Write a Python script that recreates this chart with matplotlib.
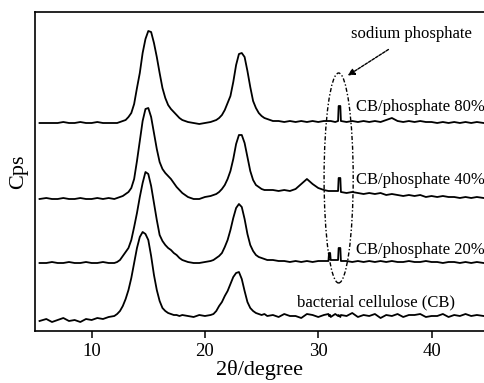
# xrd_patterns.py

import numpy as np
import matplotlib
matplotlib.use("Agg")
import matplotlib.pyplot as plt
from matplotlib.patches import Ellipse

plt.rcParams["font.family"] = ["Liberation Serif", "DejaVu Serif"]

# ---------------- DATA ---------------- #
two_theta = [
    5.4, 6.0, 6.5, 7.0, 7.5, 8.0, 8.5, 9.0, 9.5, 10.0, 10.5, 11.0, 11.5, 12.0,
    12.25, 12.5, 12.75, 13.0, 13.25, 13.5, 13.75, 14.0, 14.25, 14.5, 14.75, 15.0,
    15.25, 15.5, 15.75, 16.0, 16.25, 16.5, 16.75, 17.0, 17.25, 17.5, 17.75, 18.0,
    18.5, 19.0, 19.5, 20.0, 20.5,
    20.75, 21.0, 21.25, 21.5, 21.75, 22.0, 22.25, 22.5, 22.75, 23.0, 23.25, 23.5,
    23.75, 24.0, 24.25, 24.5, 24.75, 25.0, 25.25, 25.5,
    26.0, 26.5, 27.0, 27.5, 28.0, 28.5, 29.0, 29.5, 30.0, 30.5,
    30.9, 30.95, 31.05, 31.1, 31.5, 31.75, 31.8, 31.95, 32.0,
    32.5, 33.0, 33.5, 34.0, 34.5, 35.0, 35.5, 36.0, 36.5, 37.0, 37.5, 38.0,
    38.5, 39.0, 39.5, 40.0, 40.5, 41.0, 41.5, 42.0, 42.5, 43.0, 43.5, 44.0, 44.6,
]

cb_80 = [
    0, 0, 0, 0, 1, 0, 0, 1, 0, 0, 1, 0, 0, 0,
    0, 1, 2, 3, 6, 10, 19, 35, 50, 70, 84, 92, 91, 80, 66, 50, 35, 25, 18, 14, 11, 8, 5, 3,
    1, 0, -1, 0, 1,
    2, 3, 5, 8, 13, 20, 27, 41, 58, 69, 70, 66, 52, 36, 22, 15, 10, 7, 5, 4,
    2, 2, 1, 2, 1, 2, 1, 2, 1, 2, 2, 2, 2, 2, 1, 2, 17, 17, 2,
    1, 2, 1, 2, 1, 2, 1, 3, 5, 2, 1, 2, 1, 2, 1, 1, 0, 1, 0, 1, 0, 1, 0, 1, 0,
]

cb_40 = [
    0, 1, 0, 0, 1, 0, 0, 1, 0, 0, 1, 0, 1, 0,
    1, 2, 3, 5, 7, 11, 20, 38, 58, 78, 90, 91, 82, 66, 50, 37, 30, 26, 23, 20, 16, 12, 9, 6,
    2, 0, 0, 2, 3,
    4, 5, 7, 10, 14, 20, 28, 40, 55, 64, 64, 56, 42, 28, 19, 14, 12, 10, 9, 9,
    9, 8, 9, 8, 10, 15, 20, 15, 11, 9, 8, 8, 8, 8, 8, 8, 21, 21, 7,
    6, 7, 6, 5, 6, 5, 6, 4, 5, 4, 3, 4, 3, 4, 2, 3, 2, 3, 2, 2, 1, 2, 1, 2, 1,
]

cb_20 = [
    0, 0, 1, 0, 0, 1, 0, 0, 1, 0, 0, 1, 0, 0,
    1, 3, 7, 11, 15, 23, 36, 50, 66, 80, 91, 89, 77, 60, 43, 28, 22, 18, 15, 13, 10, 8, 5, 3,
    1, 0, 0, 1, 2,
    3, 5, 7, 10, 16, 23, 33, 45, 55, 59, 56, 44, 29, 18, 12, 8, 6, 5, 4, 3,
    3, 2, 2, 1, 2, 1, 2, 1, 2, 2, 2, 10, 10, 3, 3, 3, 15, 15, 2,
    2, 1, 2, 1, 2, 1, 2, 1, 2, 1, 1, 2, 1, 1, 2, 1, 1, 0, 1, 1, 0, 1, 0, 1, 0,
]

cb_pure = [
    -1, 1, -2, 0, 2, -1, 0, -2, 1, 0, 2, 1, 3, 4,
    6, 9, 14, 21, 30, 42, 57, 72, 83, 88, 86, 80, 64, 45, 30, 19, 12, 9, 7, 6, 5, 5, 4, 5,
    4, 3, 5, 4, 5,
    6, 9, 14, 18, 24, 29, 36, 43, 47, 48, 41, 29, 18, 12, 9, 7, 6, 5, 6, 4,
    5, 3, 6, 4, 4, 2, 6, 5, 3, 5, 6, 4, 5, 3, 6, 4, 5, 3, 5,
    4, 7, 3, 5, 4, 6, 2, 5, 4, 6, 3, 5, 5, 6, 3, 4, 4, 6, 3, 5, 4, 6, 4, 5, 4,
]

curves = [cb_80, cb_40, cb_20, cb_pure]
offsets = [208, 132, 68, 11]
labels = ["CB/phosphate 80%", "CB/phosphate 40%", "CB/phosphate 20%",
          "bacterial cellulose (CB)"]

# ---------------- PLOT ---------------- #
fig = plt.figure(figsize=(4.84, 3.83), dpi=100)
ax = fig.add_axes([35 / 484, 52 / 383, 449 / 484, 319 / 383])

for vals, off in zip(curves, offsets):
    ax.plot(two_theta, np.array(vals) + off, color="black", lw=1.3)

# curve labels
ax.text(33.3, 224, labels[0], fontsize=12, va="center", ha="left")
ax.text(33.3, 151, labels[1], fontsize=12, va="center", ha="left")
ax.text(33.3, 81, labels[2], fontsize=12, va="center", ha="left")
ax.text(28.1, 29, labels[3], fontsize=12, va="center", ha="left")

# sodium phosphate marker
ax.add_patch(Ellipse((31.8, 153), 2.57, 210, fill=False, ec="black", lw=1.0,
                     ls=(0, (3, 1.5, 1, 1.5))))
ax.annotate("", xy=(32.4, 254), xytext=(36.4, 283),
            arrowprops=dict(arrowstyle="-|>", color="black", lw=1.0,
                            ls=(0, (2, 1)), mutation_scale=10))
ax.text(38.2, 297, "sodium phosphate", fontsize=12, ha="center", va="center")

ax.set_xlim(5, 44.63)
ax.set_ylim(0, 319)
ax.set_xticks([10, 20, 30, 40])
ax.set_yticks([])
ax.tick_params(axis="x", direction="out", length=5, width=1.1, labelsize=13.5, pad=4)
for s in ["left", "top", "bottom"]:
    ax.spines[s].set_linewidth(1.2)
ax.spines["right"].set_visible(False)

ax.set_xlabel("2θ/degree", fontsize=16, labelpad=0)
ax.set_ylabel("Cps", fontsize=16, labelpad=5)

plt.savefig("out.png", dpi=100)
